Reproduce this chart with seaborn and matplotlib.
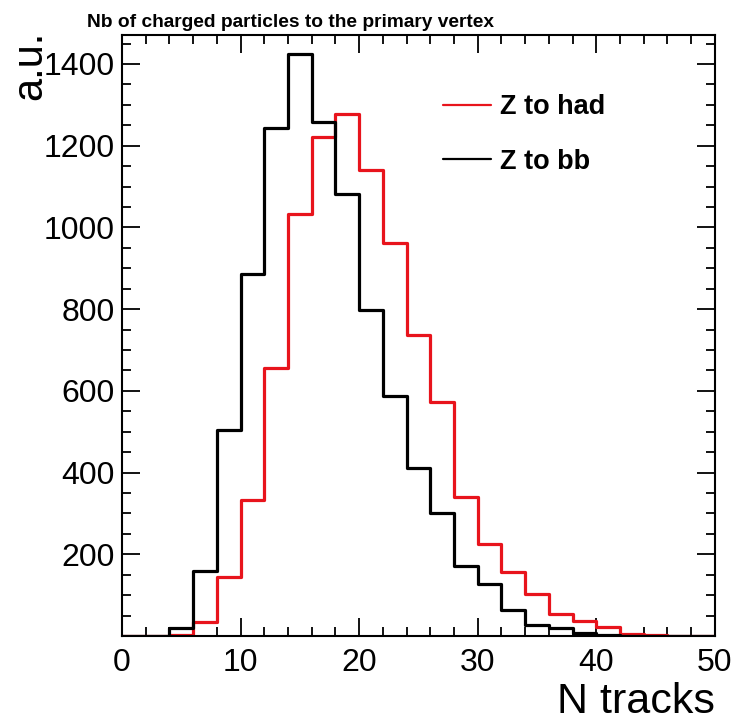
import numpy as np
import pandas as pd
import matplotlib
matplotlib.use("Agg")
import matplotlib.pyplot as plt
import seaborn as sns
from matplotlib.ticker import MultipleLocator
from matplotlib.lines import Line2D

sns.set_theme(style="ticks")
plt.rcParams['font.family'] = ['Liberation Sans', 'DejaVu Sans']
plt.rcParams['text.color'] = 'black'
plt.rcParams['axes.labelcolor'] = 'black'
plt.rcParams['xtick.color'] = 'black'
plt.rcParams['ytick.color'] = 'black'

# Bin edges (N tracks), width 2
bin_edges = list(range(0, 52, 2))
bin_centers = [e + 1 for e in bin_edges[:-1]]

z_to_had = [0, 0, 3, 34, 144, 332, 656, 1032, 1220, 1278, 1141, 963, 737, 573,
            341, 224, 156, 102, 54, 37, 22, 4, 2, 1, 0]
z_to_bb = [0, 0, 20, 158, 505, 885, 1243, 1424, 1259, 1082, 798, 588, 412, 300,
           172, 126, 64, 27, 20, 8, 2, 1, 0, 0, 0]

series_names = ["Z to had", "Z to bb"]
series_colors = ["#e8141c", "#000000"]

df = pd.concat([
    pd.DataFrame({"ntracks": bin_centers, "weight": z_to_had, "sample": series_names[0]}),
    pd.DataFrame({"ntracks": bin_centers, "weight": z_to_bb, "sample": series_names[1]}),
])

fig = plt.figure(figsize=(7.37, 7.25), dpi=100)
ax = fig.add_axes([0.1655, 0.1228, 0.8045, 0.829])

for name, col in zip(series_names, series_colors):
    sub = df[df["sample"] == name]
    sns.histplot(data=sub, x="ntracks", weights="weight", bins=bin_edges,
                 element="step", fill=False, color=col, linewidth=2.3, ax=ax)

ax.set_xlim(0, 50)
ax.set_ylim(0, 1471)
ax.xaxis.set_major_locator(MultipleLocator(10))
ax.xaxis.set_minor_locator(MultipleLocator(2))
ax.yaxis.set_major_locator(MultipleLocator(200))
ax.yaxis.set_minor_locator(MultipleLocator(50))
ax.set_yticks([200, 400, 600, 800, 1000, 1200, 1400])
ax.tick_params(which="both", direction="in", top=True, right=True, width=1.3,
               colors="black", labelsize=23)
ax.tick_params(which="major", length=13)
ax.tick_params(which="minor", length=6.5)
ax.tick_params(axis="x", pad=9)
ax.tick_params(axis="y", pad=5)
for sp in ax.spines.values():
    sp.set_linewidth(1.5)
    sp.set_color("black")

ax.set_xlabel("")
ax.set_ylabel("")
fig.text(0.970, 0.016, "N tracks", ha="right", va="baseline", fontsize=31)
fig.text(0.014, 0.957, "a.u.", ha="left", va="top", rotation=90, fontsize=30)
fig.text(0.118, 0.963, "Nb of charged particles to the primary vertex",
         ha="left", va="baseline", fontsize=13.8, fontweight="bold",
         family=["Liberation Sans Narrow", "Liberation Sans", "DejaVu Sans"])

handles = [Line2D([0], [0], color=c, lw=1.6) for c in series_colors]
leg = ax.legend(handles, series_names, loc="upper left",
                bbox_to_anchor=(0.519, 0.924), frameon=False, borderpad=0,
                handlelength=1.78, handletextpad=0.33, labelspacing=1.05,
                prop={"weight": "bold", "size": 19.5})

fig.savefig("out.png", dpi=100, facecolor="white")
